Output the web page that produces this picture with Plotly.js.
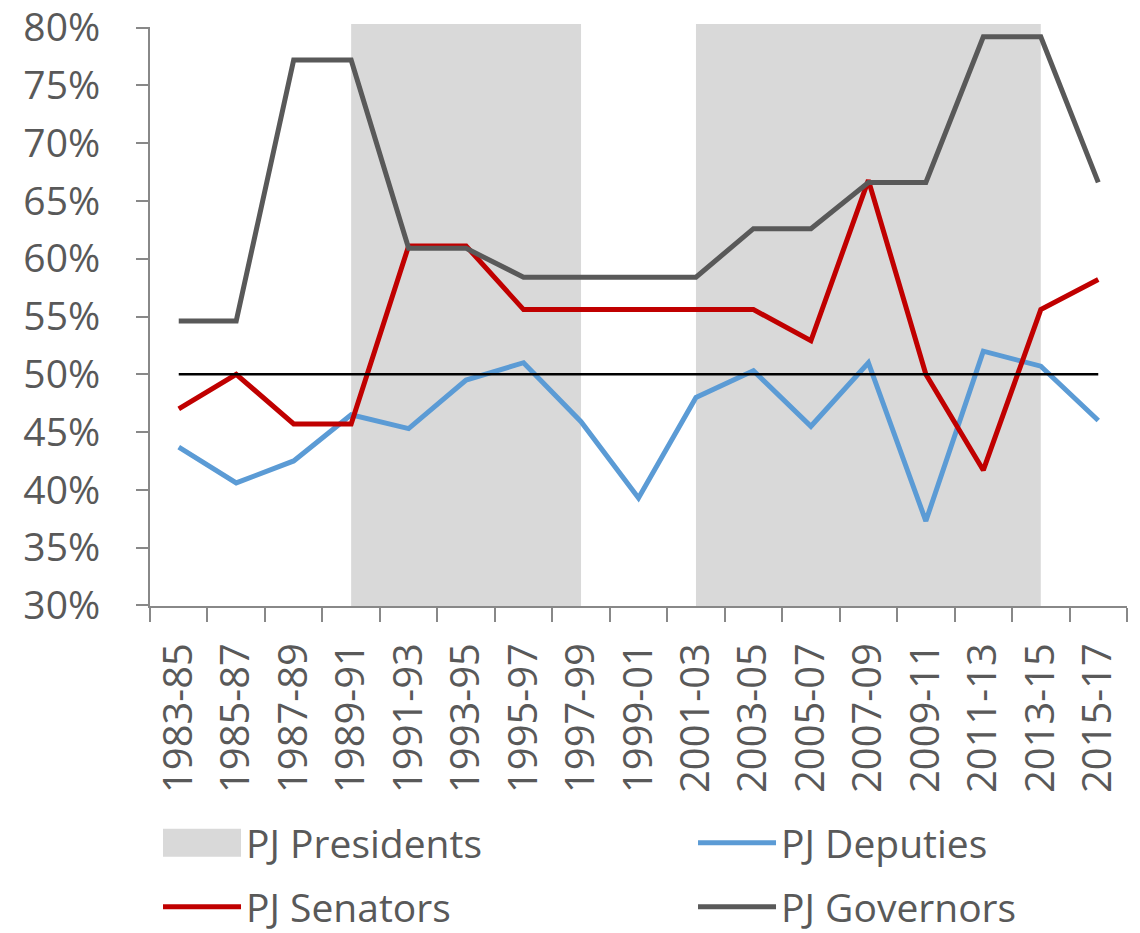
<!DOCTYPE html>
<html><head><meta charset="utf-8">
<script src="https://cdn.plot.ly/plotly-3.0.1.min.js"></script>
<style>html,body{margin:0;padding:0;background:#fff}</style>
</head><body><div id="chart" style="width:1140px;height:933px"></div>
<script>
const periods = ['1983-85','1985-87','1987-89','1989-91','1991-93','1993-95','1995-97','1997-99','1999-01','2001-03','2003-05','2005-07','2007-09','2009-11','2011-13','2013-15','2015-17'];
const deputies = [0.437, 0.406, 0.425, 0.465, 0.453, 0.495, 0.510, 0.459, 0.393, 0.480, 0.503, 0.455, 0.510, 0.373, 0.520, 0.507, 0.460];
const senators = [0.470, 0.500, 0.457, 0.457, 0.611, 0.611, 0.556, 0.556, 0.556, 0.556, 0.556, 0.529, 0.668, 0.500, 0.417, 0.556, 0.582];
const governors = [0.546, 0.546, 0.772, 0.772, 0.609, 0.609, 0.584, 0.584, 0.584, 0.584, 0.626, 0.626, 0.666, 0.666, 0.792, 0.792, 0.666];
const majorityLine = [0.5, 0.5, 0.5, 0.5, 0.5, 0.5, 0.5, 0.5, 0.5, 0.5, 0.5, 0.5, 0.5, 0.5, 0.5, 0.5, 0.5];
const presidentStart = ['1989-91', '2001-03'];
const presidentEnd = ['1997-99', '2013-15'];
const yTicks = [0.30, 0.35, 0.40, 0.45, 0.50, 0.55, 0.60, 0.65, 0.70, 0.75, 0.80];

const FONT = 'Open Sans, Noto Sans, Liberation Sans, sans-serif';
const TXT = '#595959';
const AX = '#888888';
const SHADE = '#D9D9D9';

const traces = [
  {x: [null], y: [null], type: 'scatter', mode: 'lines', name: 'PJ Presidents',
   line: {color: SHADE, width: 10}, legend: 'legend', hoverinfo: 'skip'},
  {x: [null], y: [null], type: 'scatter', mode: 'lines', name: ' ',
   line: {color: SHADE, width: 10}, legend: 'legend5', hoverinfo: 'skip'},
  {x: [null], y: [null], type: 'scatter', mode: 'lines', name: ' ',
   line: {color: SHADE, width: 10}, legend: 'legend6', hoverinfo: 'skip'},
  {x: periods, y: deputies, type: 'scatter', mode: 'lines', name: 'PJ Deputies',
   line: {color: '#5B9BD5', width: 5}, legend: 'legend2'},
  {x: periods, y: senators, type: 'scatter', mode: 'lines', name: 'PJ Senators',
   line: {color: '#C00000', width: 5}, legend: 'legend3'},
  {x: periods, y: governors, type: 'scatter', mode: 'lines', name: 'PJ Governors',
   line: {color: '#595959', width: 5}, legend: 'legend4'},
  {x: periods, y: majorityLine, type: 'scatter', mode: 'lines', name: '50%',
   line: {color: '#000000', width: 2.5}, showlegend: false}
];

const shapes = presidentStart.map((s, i) => ({
  type: 'rect', xref: 'x', yref: 'paper', x0: s, x1: presidentEnd[i], y0: 0, y1: 1.005,
  fillcolor: SHADE, line: {width: 0}, layer: 'below'
}));

function legendAt(x, y) {
  return {
    orientation: 'v', x: x, xanchor: 'left', y: y, yanchor: 'middle',
    font: {family: FONT, size: 39, color: TXT}, itemwidth: 78,
    bgcolor: 'rgba(0,0,0,0)', borderwidth: 0
  };
}

const ROW1 = -0.4093, ROW2 = -0.5196, COL1 = 0.0082, COL2 = 0.5558, BOXSTEP = 0.0155;

const layout = {
  width: 1140, height: 933,
  margin: {l: 150, r: 13, t: 27, b: 327, pad: 0, autoexpand: false},
  paper_bgcolor: '#ffffff', plot_bgcolor: '#ffffff',
  font: {family: FONT, color: TXT},
  showlegend: true,
  shapes: shapes,
  xaxis: {
    type: 'category', tickson: 'boundaries', ticks: 'outside', ticklen: 14, tickwidth: 2,
    tickcolor: AX, showline: true, linecolor: AX, linewidth: 2, showgrid: false,
    zeroline: false, tickangle: -90, tickfont: {family: FONT, size: 40, color: TXT},
    ticklabelstandoff: 19, automargin: false, range: [-0.5, 16.5]
  },
  yaxis: {
    range: [0.2995, 0.8005], tickvals: yTicks, tickformat: '.0%', ticks: 'outside', ticklen: 12,
    tickwidth: 2, tickcolor: AX, showline: true, linecolor: AX, linewidth: 2,
    showgrid: false, zeroline: false, tickfont: {family: FONT, size: 39, color: TXT},
    ticklabelstandoff: 28, ticklabeloverflow: 'allow', automargin: false
  },
  legend: legendAt(COL1, ROW1),
  legend5: legendAt(COL1, ROW1 + BOXSTEP),
  legend6: legendAt(COL1, ROW1 - BOXSTEP),
  legend2: legendAt(COL2, ROW1),
  legend3: legendAt(COL1, ROW2),
  legend4: legendAt(COL2, ROW2)
};

Plotly.newPlot('chart', traces, layout, {displayModeBar: false, staticPlot: true});
</script>
</body></html>
